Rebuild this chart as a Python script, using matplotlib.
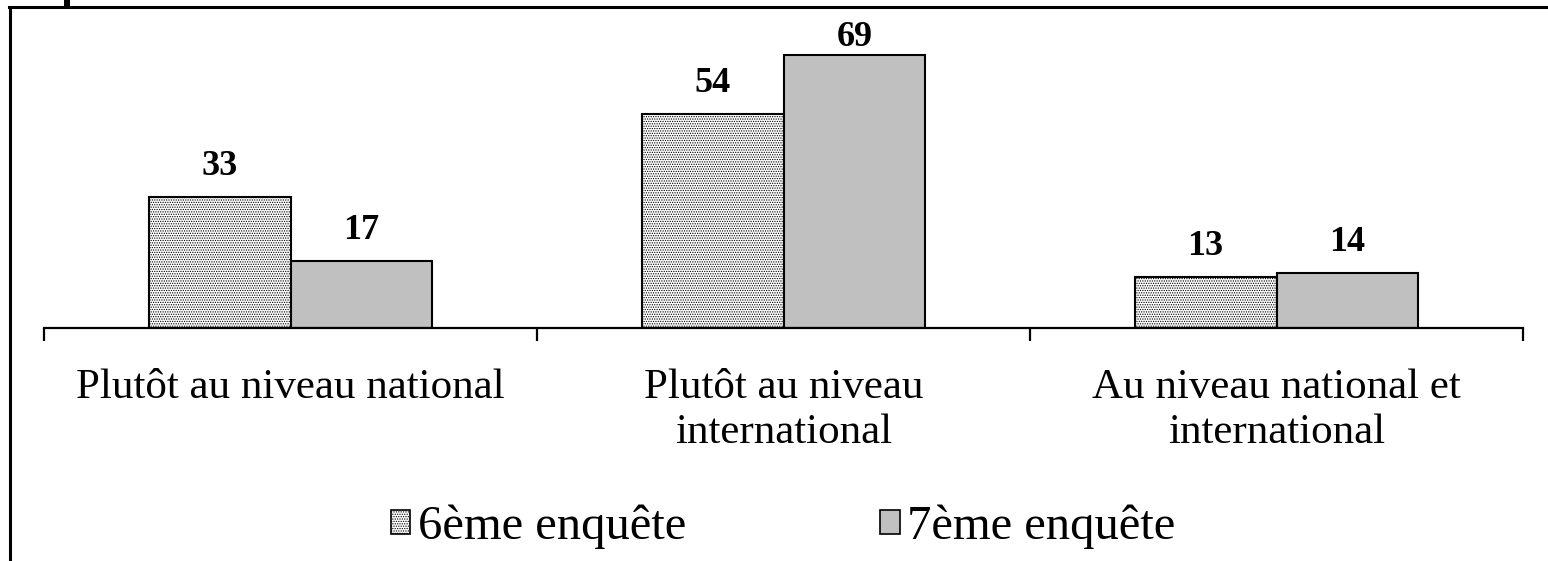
import matplotlib
matplotlib.use("Agg")
import matplotlib.pyplot as plt
from matplotlib.patches import Rectangle, Patch
from matplotlib.lines import Line2D
import numpy as np

categories = ["Plutôt au niveau national", "Plutôt au niveau\ninternational", "Au niveau national et\ninternational"]
series_names = ["6ème enquête", "7ème enquête"]
values_6 = [33, 54, 13]
values_7 = [17, 69, 14]

plt.rcParams['font.family'] = ['Liberation Serif', 'DejaVu Serif']
plt.rcParams['hatch.linewidth'] = 0.6

W, H = 1548, 561
fig = plt.figure(figsize=(W/100, H/100), dpi=100)

def fx(px):
    return px / W
def fy(py):
    return 1 - py / H

ax = fig.add_axes([fx(44), fy(328), fx(1523) - fx(44), fy(20) - fy(328)])
x = np.arange(len(categories))
bw = 0.288
b1 = ax.bar(x - bw/2, values_6, bw, facecolor='white', edgecolor='black', hatch='.......', linewidth=1.5)
b2 = ax.bar(x + bw/2, values_7, bw, facecolor='#c0c0c0', edgecolor='black', linewidth=1.5)
for bars, vals in ((b1, values_6), (b2, values_7)):
    for rect, v in zip(bars, vals):
        ax.text(rect.get_x() + rect.get_width()/2, min(v + 7.7, 73.3), str(v), ha='center', va='center',
                fontsize=26, fontweight='bold')

ax.set_xlim(-0.5, 2.5)
ax.set_ylim(0, 77.8)
for s in ('top', 'right', 'left'):
    ax.spines[s].set_visible(False)
ax.spines['bottom'].set_linewidth(1.6)
ax.set_yticks([])
ax.set_xticks([-0.5, 0.5, 1.5, 2.5])
ax.set_xticklabels([])
ax.tick_params(axis='x', which='major', direction='out', length=9, width=1.6)
ax.set_xticks(x, minor=True)
ax.set_xticklabels(categories, minor=True, fontsize=31, linespacing=1.22)
ax.tick_params(axis='x', which='minor', length=0, pad=29)

# legend
handles = [Patch(facecolor='white', edgecolor='black', hatch='.......', linewidth=1.2),
           Patch(facecolor='#c0c0c0', edgecolor='black', linewidth=1.2)]
fig.legend(handles, series_names, loc='center', bbox_to_anchor=(fx(783), fy(527)), ncol=2,
           frameon=False, fontsize=35, handlelength=0.4, handleheight=0.4, handletextpad=0.15,
           columnspacing=4.0)

# outer frame
fig.add_artist(Line2D([fx(9), fx(1548)], [fy(7), fy(7)], color='black', linewidth=2.2, transform=fig.transFigure))
fig.add_artist(Line2D([fx(10), fx(10)], [fy(7), fy(561)], color='black', linewidth=2.2, transform=fig.transFigure))
fig.add_artist(Rectangle((fx(64), fy(7)), fx(6), fy(0) - fy(7), facecolor='black', edgecolor='none', transform=fig.transFigure))

fig.savefig("out.png", dpi=100)
